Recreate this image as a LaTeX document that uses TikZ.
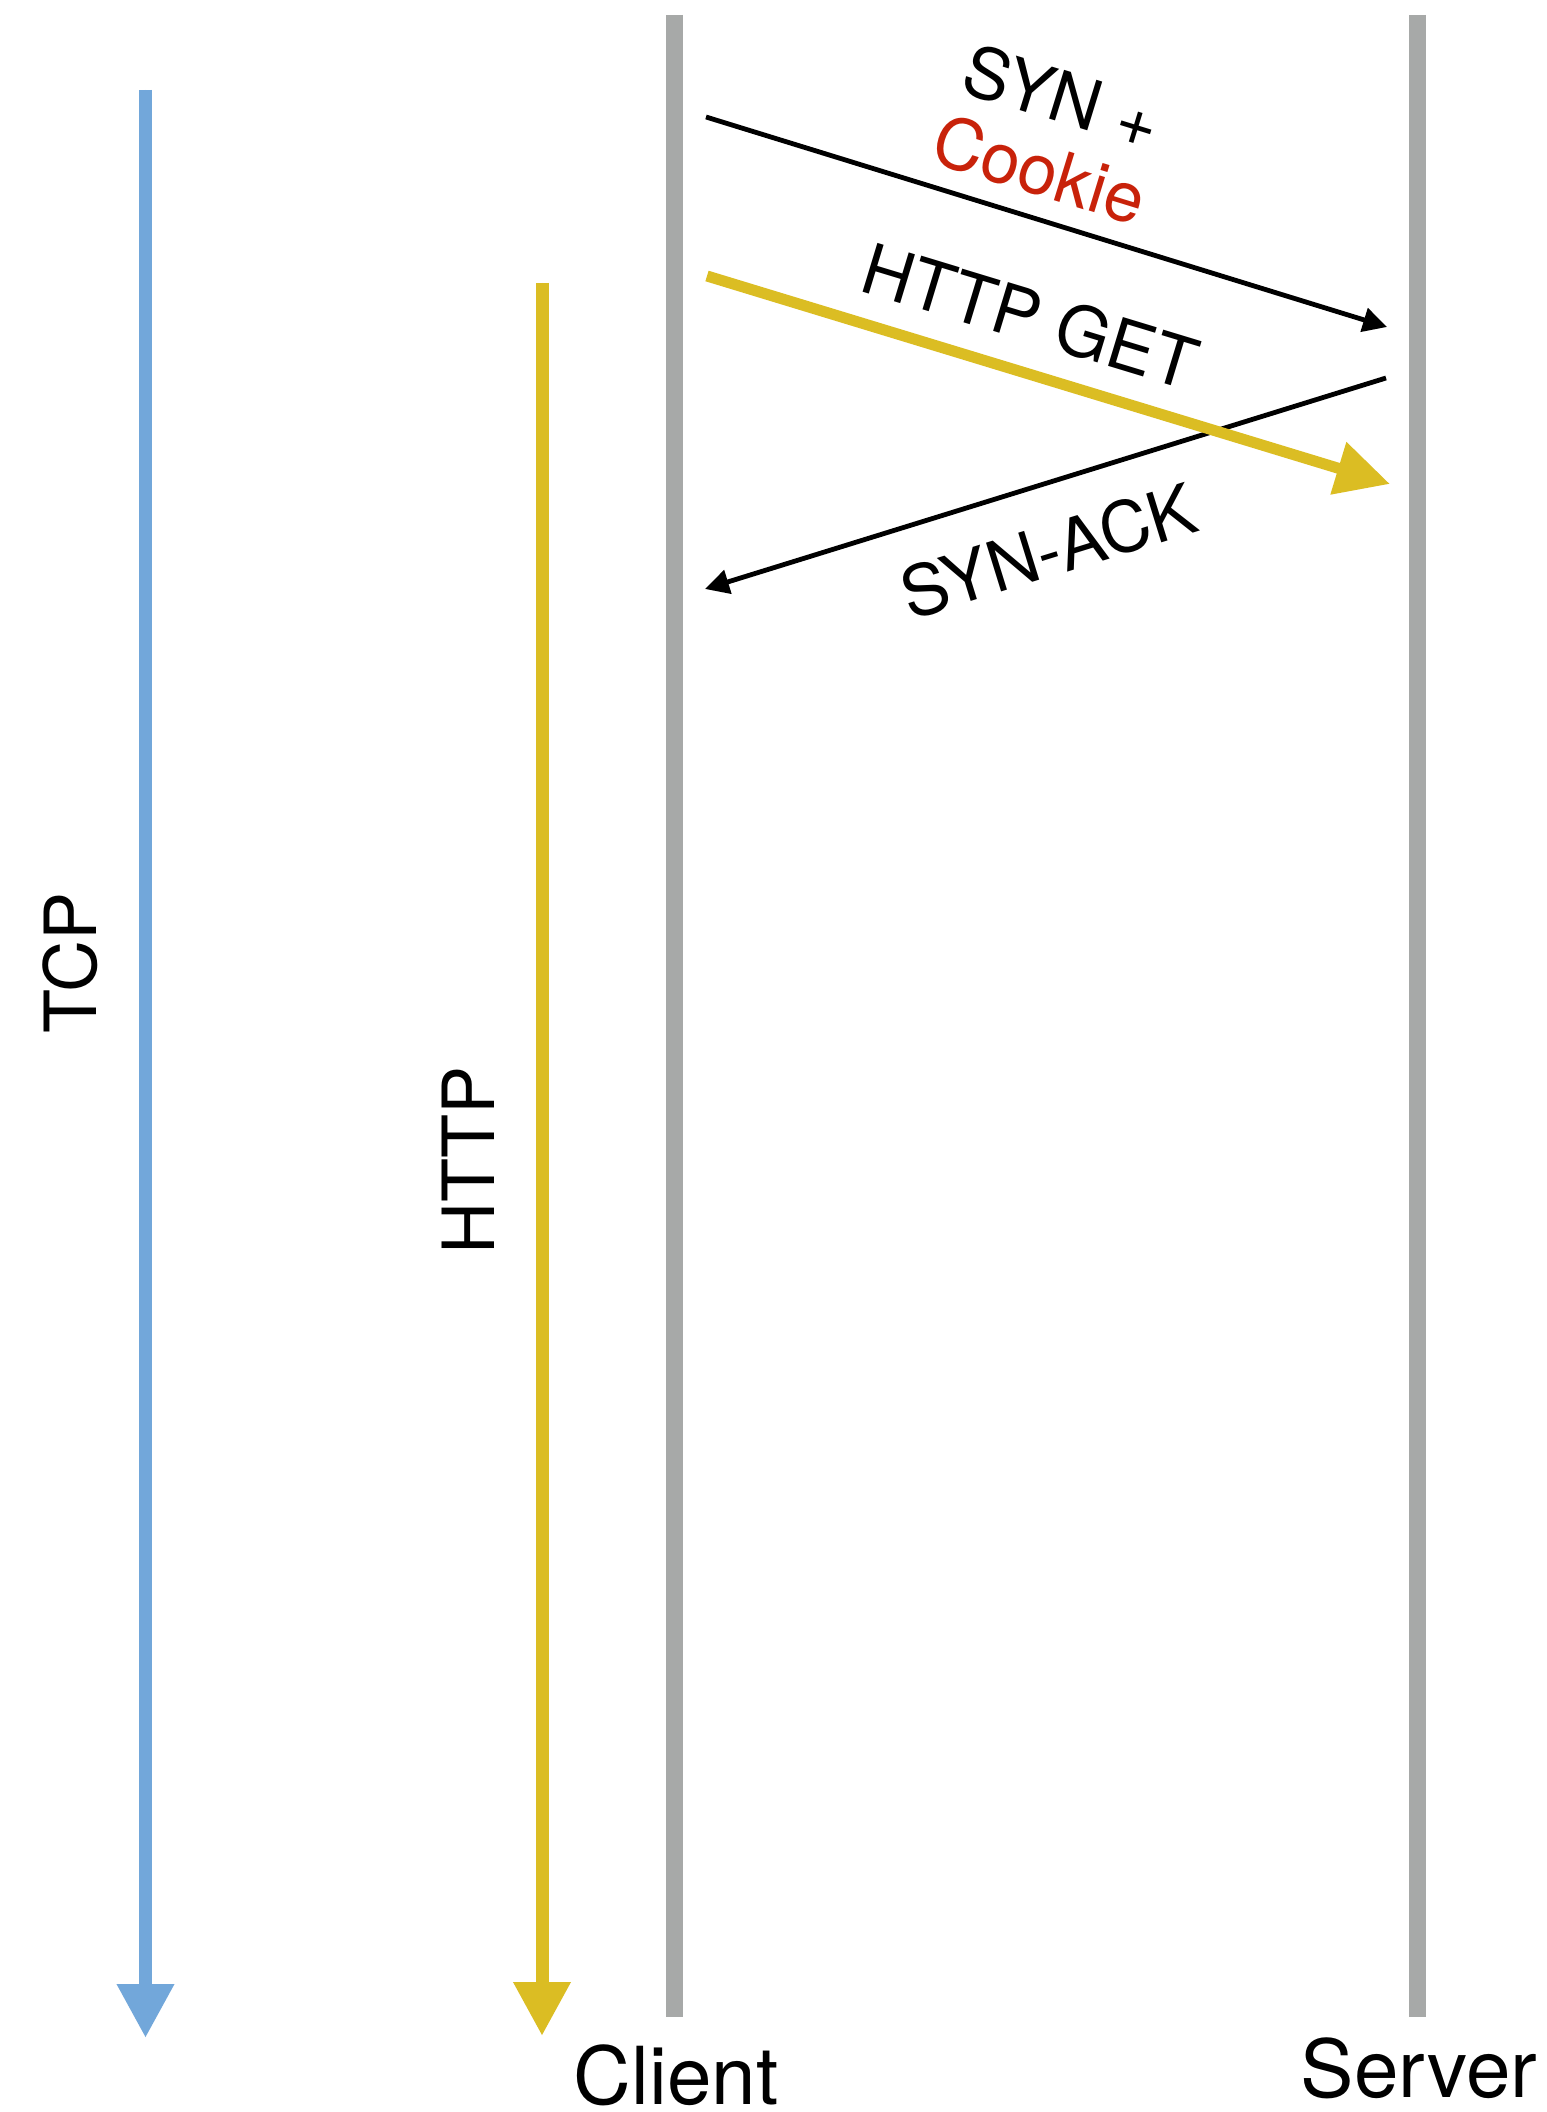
\documentclass[tikz,border=0pt]{standalone}
\usepackage{fontspec}
\setmainfont{TeX Gyre Heros}
\usetikzlibrary{arrows.meta}
\definecolor{lifegrey}{RGB}{167,169,168}
\definecolor{tcpblue}{RGB}{114,167,218}
\definecolor{httpyellow}{RGB}{219,189,35}
\definecolor{cookiered}{RGB}{200,34,10}
\begin{document}
\begin{tikzpicture}[x=0.5pt,y=-0.5pt,
  lifeline/.style={draw=lifegrey,line width=8.5pt},
  layer/.style={line width=6.5pt,-{Triangle[length=27pt,width=27pt]}},
  msg/.style={line width=2.4pt,-{Triangle[length=12pt,width=12pt]}},
  datamsg/.style={draw=httpyellow,line width=5.5pt,-{Triangle[length=27pt,width=26pt]}},
  endlabel/.style={font=\fontsize{40}{48}\selectfont,anchor=base,inner sep=0pt},
  layerlabel/.style={font=\fontsize{36}{42}\selectfont,rotate=90,inner sep=0pt},
  msglabel/.style={font=\fontsize{35}{38}\selectfont,inner sep=0pt,align=center},
]
\useasboundingbox[fill=white] (0,0) rectangle (1546,2112);

% lifelines of the two hosts
\coordinate (cTop) at (674,15);
\coordinate (cBot) at (674,2017);
\coordinate (sTop) at (1417,15);
\coordinate (sBot) at (1417,2017);
\draw[lifeline] (cTop) -- (cBot);
\draw[lifeline] (sTop) -- (sBot);

% protocol layers on the client side
\coordinate (tcpTop) at (145.5,90);
\coordinate (tcpEnd) at (145.5,2038);
\coordinate (httpTop) at (542,283);
\coordinate (httpEnd) at (542,2036);
\draw[layer,draw=tcpblue,fill=tcpblue] (tcpTop) -- (tcpEnd);
\draw[layer,draw=httpyellow,fill=httpyellow] (httpTop) -- (httpEnd);

% messages
\coordinate (synFrom) at (706,117);
\coordinate (synTo) at (1387,327);
\coordinate (ackFrom) at (1386,378);
\coordinate (ackTo) at (705,589);
\coordinate (getFrom) at (707,276);
\coordinate (getTo) at (1390,484);
\draw[msg] (synFrom) -- (synTo);
\draw[msg] (ackFrom) -- (ackTo);
\draw[datamsg,fill=httpyellow] (getFrom) -- (getTo);

% labels
\node[msglabel,rotate=-17.1] (synlbl) at (1051,133) {SYN +\\\textcolor{cookiered}{Cookie}};
\node[msglabel,rotate=-16.9] (getlbl) at (1030,316) {HTTP GET};
\node[msglabel,rotate=17.2] (acklbl) at (1048,551) {SYN-ACK};
\node[layerlabel] (tcplbl) at (70,963) {TCP};
\node[layerlabel] (httplbl) at (468,1160) {HTTP};
\node[endlabel] (client) at (676,2104) {Client};
\node[endlabel] (server) at (1419,2097) {Server};
\end{tikzpicture}
\end{document}
